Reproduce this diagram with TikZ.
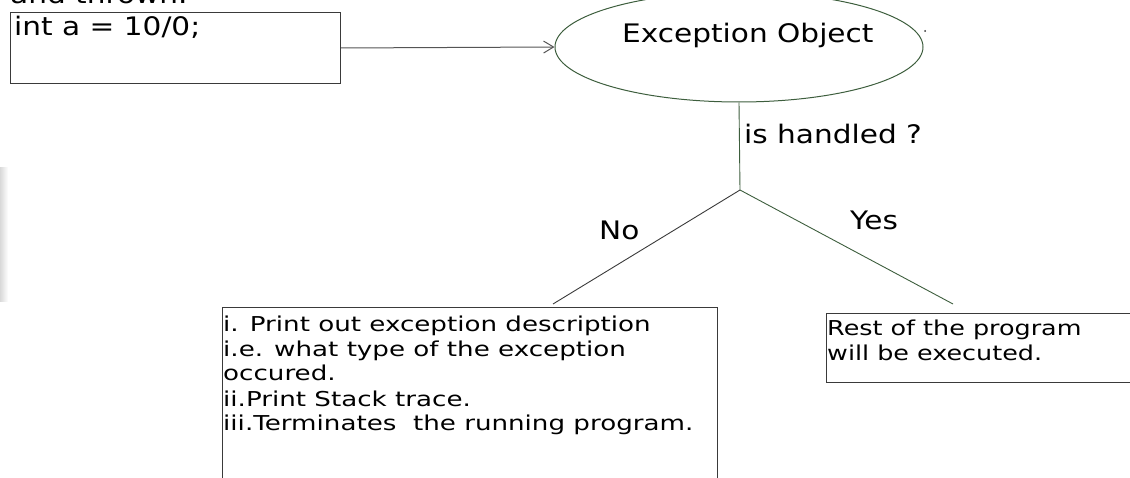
\documentclass[tikz,border=0pt]{standalone}
\usepackage{fontspec}
\setmainfont{DejaVu Sans}
\newfontfamily\FontBig[FakeStretch=1.16]{DejaVu Sans}
\newfontfamily\FontSm[FakeStretch=1.24]{DejaVu Sans}
\newfontfamily\FontSmWide[FakeStretch=1.275]{DejaVu Sans}
\usetikzlibrary{shapes.geometric,arrows.meta}
\definecolor{boxline}{HTML}{3A3A3A}
\definecolor{greenline}{HTML}{3D5E3D}
\definecolor{arrowline}{HTML}{555555}
\begin{document}
\begin{tikzpicture}[x=1pt,y=-1pt,
  boxstyle/.style={draw=boxline, line width=1pt, anchor=north west, inner sep=0pt, rectangle},
  bigtext/.style={font=\FontBig\fontsize{25.5}{30}\selectfont, inner sep=0pt, anchor=base west, text=black},
  smalltext/.style={font=\FontSm\fontsize{20.5}{25}\selectfont, inner sep=0pt, anchor=base west, text=black},
  widetext/.style={font=\FontSmWide\fontsize{20.5}{25}\selectfont, inner sep=0pt, anchor=base west, text=black},
  link/.style={draw=greenline, line width=0.9pt},
  graylink/.style={draw=boxline, line width=0.9pt},
]
\useasboundingbox (0,0) rectangle (1130,478);
\clip (0,0) rectangle (1130,478);
\shade[left color=black!15, right color=white] (0,168) rectangle (8,302);
% top cut text
\node[bigtext] (top) at (10,4) {and thrown.};
% first box
\node[boxstyle, minimum width=330pt, minimum height=71pt] (b1) at (10,12) {};
\node[bigtext] (b1t) at (14,36) {int a = 10/0;};
% ellipse
\node[ellipse, draw=greenline, line width=1pt, minimum width=368pt, minimum height=110pt, inner sep=0pt] (eo) at (739,47) {};
\node[bigtext] (eot) at (622,43) {Exception Object};
\node[circle, fill=black!80, inner sep=0pt, minimum size=2pt] (dot) at (925,31) {};
\draw[draw=arrowline, line width=1pt, -{Straight Barb[length=10pt,width=12pt]}] (b1.east) -- (eo.west);
% decision
\coordinate (j) at (740,190);
\draw[link] (eo.south) -- (j);
\node[bigtext] (q) at (744,144) {is handled ?};
\coordinate (nEnd) at (553,304);
\coordinate (yEnd) at (953,304);
\draw[graylink] (j) -- (nEnd);
\draw[link] (j) -- (yEnd);
\node[bigtext] (no) at (599,240) {No};
\node[bigtext] (yes) at (850,230) {Yes};
% left box
\node[boxstyle, minimum width=495pt, minimum height=200pt] (nb) at (222,307) {};
\node[widetext] (nbt) at (223,331) {\begin{tabular}[t]{@{}l@{}}i. Print out exception description\\
i.e. what type of the exception\\
occured.\\
ii.Print Stack trace.\\
iii.Terminates\ \ the running program.\end{tabular}};
% right box
\node[boxstyle, minimum width=303.5pt, minimum height=69pt] (yb) at (826,313) {};
\node[smalltext] (ybt) at (827,335) {\begin{tabular}[t]{@{}l@{}}Rest of the program\\
will be executed.\end{tabular}};
\end{tikzpicture}
\end{document}
